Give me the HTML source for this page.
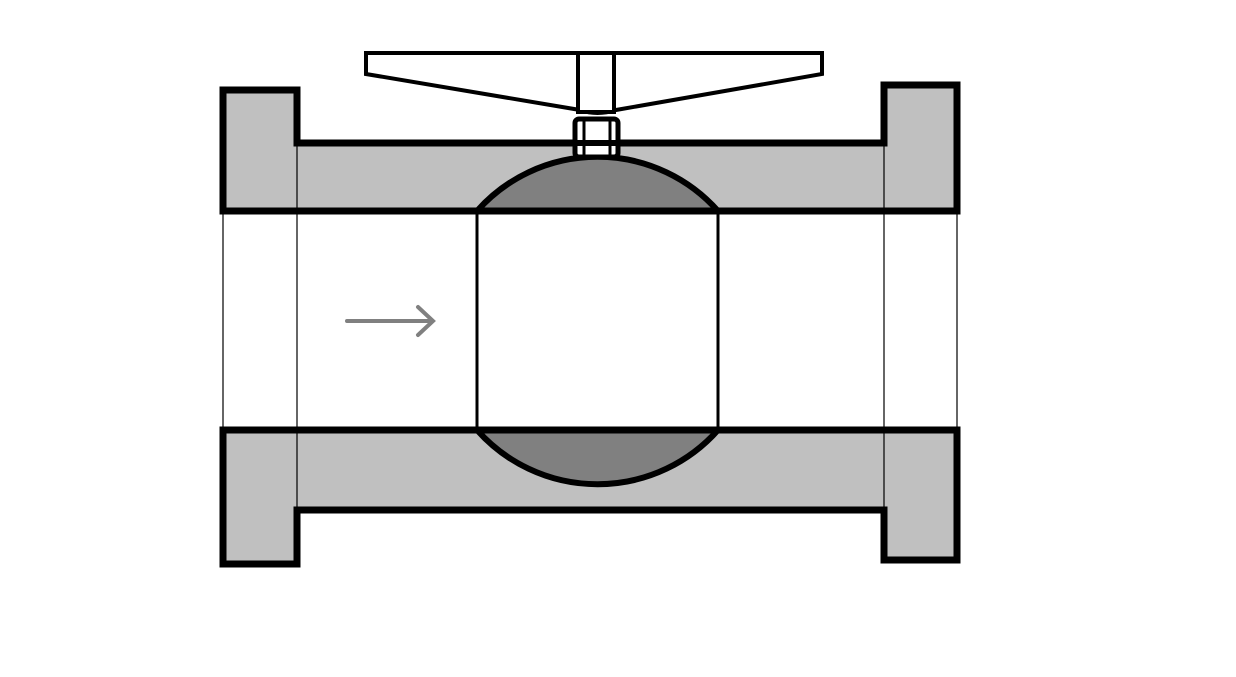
<!DOCTYPE html>
<html><head><style>html,body{margin:0;padding:0;background:#fff}</style></head>
<body>
<svg width="1236" height="672" viewBox="0 0 1236 672" xmlns="http://www.w3.org/2000/svg">
<rect width="1236" height="672" fill="#fff"/>
<path d="M223,90 H297 V143 H884 V85 H957 V211 H223 Z" fill="#c0c0c0" stroke="#000" stroke-width="7"/>
<path d="M223,430 H957 V560 H884 V510 H297 V564 H223 Z" fill="#c0c0c0" stroke="#000" stroke-width="7"/>
<g stroke="#000" stroke-width="1.2">
<line x1="223" y1="211" x2="223" y2="430"/>
<line x1="297" y1="143" x2="297" y2="510"/>
<line x1="884" y1="143" x2="884" y2="510"/>
<line x1="957" y1="211" x2="957" y2="430"/>
</g>
<path d="M477,211 A161,161 0 0 1 718,211 Z" fill="#808080"/>
<path d="M477,211 A161,161 0 0 1 718,211" fill="none" stroke="#000" stroke-width="6"/>
<path d="M477,430 A161,161 0 0 0 718,430 Z" fill="#808080"/>
<path d="M477,430 A161,161 0 0 0 718,430" fill="none" stroke="#000" stroke-width="6"/>
<rect x="477" y="211" width="241" height="219" fill="#fff" stroke="#000" stroke-width="3"/>
<line x1="223" y1="211" x2="957" y2="211" stroke="#000" stroke-width="7"/>
<line x1="223" y1="430" x2="957" y2="430" stroke="#000" stroke-width="7"/>
<rect x="575" y="119" width="43" height="38" rx="4" fill="#fff" stroke="#000" stroke-width="5"/>
<line x1="584" y1="119" x2="584" y2="157" stroke="#000" stroke-width="3"/>
<line x1="610" y1="119" x2="610" y2="157" stroke="#000" stroke-width="3"/>
<line x1="575" y1="143" x2="618" y2="143" stroke="#000" stroke-width="6"/>
<path d="M366,53 H822 V74 L616,110 Q597,116 580,110 L366,74 Z" fill="#fff" stroke="#000" stroke-width="4"/>
<rect x="578" y="53" width="36" height="59" fill="#fff" stroke="#000" stroke-width="4"/>
<g stroke="#808080" stroke-width="4" fill="none" stroke-linecap="round">
<line x1="347" y1="321" x2="432" y2="321"/>
<polyline points="418,307 433,321 418,335"/>
</g>
</svg>
</body></html>
